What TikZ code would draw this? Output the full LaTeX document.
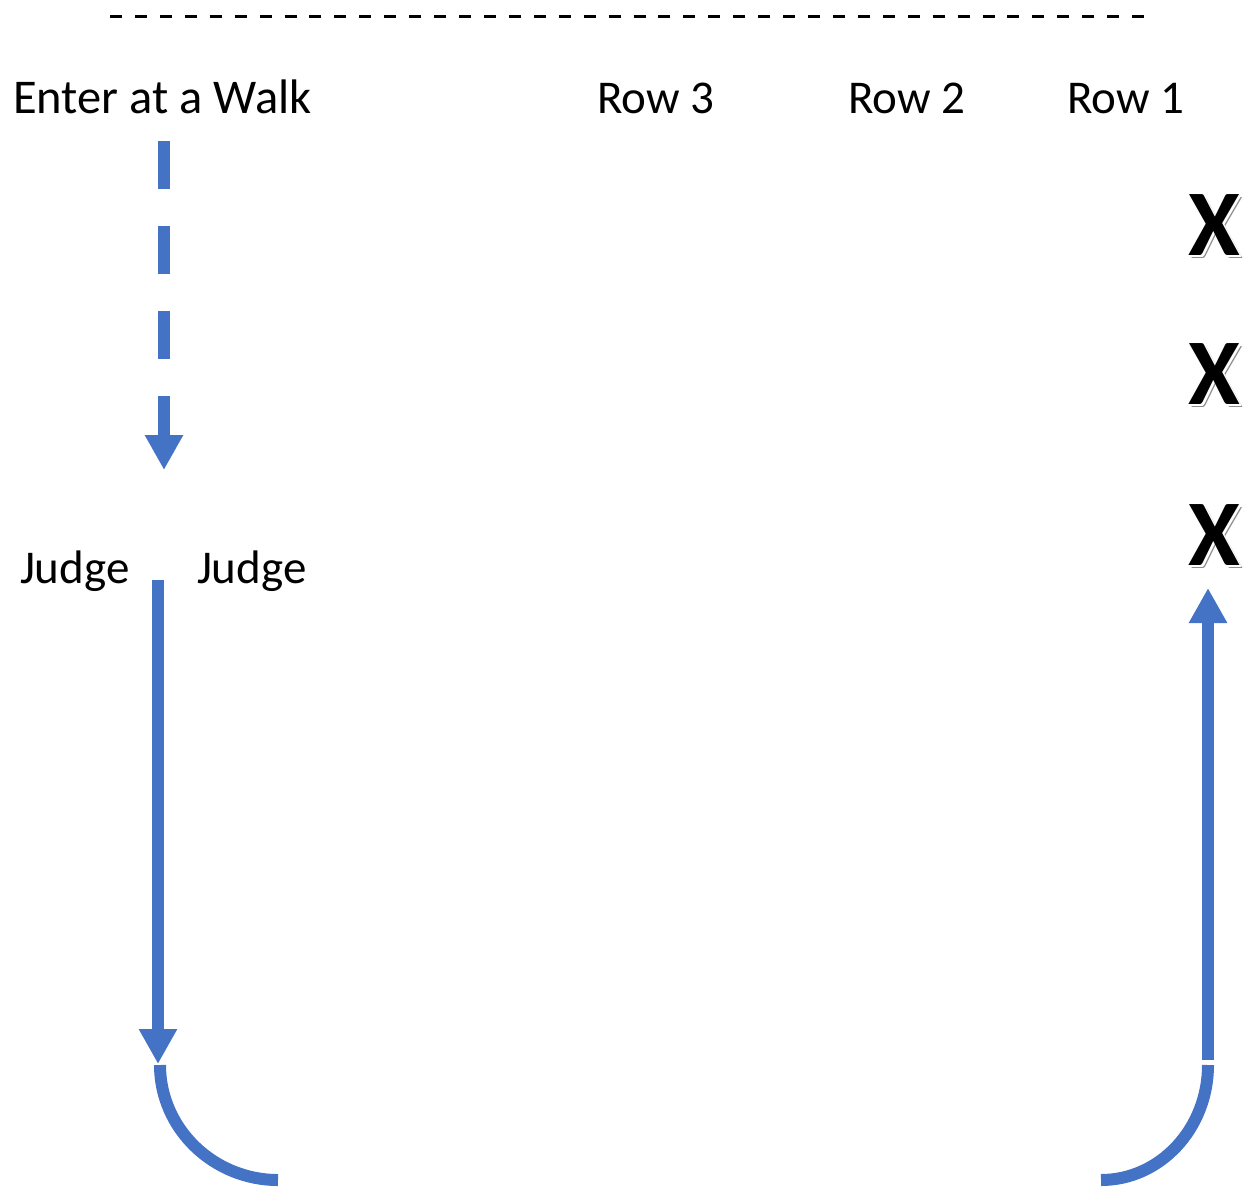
\documentclass[tikz,border=0pt]{standalone}
\usepackage{fontspec}
\setmainfont{Carlito}
\usetikzlibrary{arrows.meta}
\definecolor{flowblue}{HTML}{4472C4}
\definecolor{shadowgray}{HTML}{8C8C8C}
\tikzset{
  lbl/.style={inner sep=0pt, outer sep=0pt, anchor=base west, font=\fontsize{47}{56}\selectfont},
  xmark/.style={inner sep=0pt, outer sep=0pt, anchor=base, font=\bfseries\fontsize{94}{110}\selectfont},
  flow/.style={draw=flowblue, line width=12pt},
  flowtip/.style={-{Triangle[width=36pt,length=35pt]}, flow},
}
\begin{document}
\begin{tikzpicture}[x=1pt,y=-1pt]
\useasboundingbox (0,0) rectangle (1249,1186);
% top dashed line
\coordinate (topL) at (110,16);
\coordinate (topR) at (1144,16);
\draw[line width=3pt, dash pattern=on 12pt off 12.93pt] (topL) -- (topR);
% labels
\node[lbl, font=\fontsize{48.5}{58}\selectfont] (enter) at (13,113) {Enter at a Walk};
\node[lbl] (row3) at (597,113) {Row 3};
\node[lbl] (row2) at (848,113) {Row 2};
\node[lbl] (row1) at (1067,113) {Row 1};
\node[lbl] (judgeL) at (20,583) {Judge};
\node[lbl] (judgeR) at (197,583) {Judge};
% X marks with shadow
\foreach \n/\y in {x1/255, x2/404, x3/565} {
  \node[xmark, text=shadowgray] at (1217.5,\y+3.5) {X};
  \node[xmark, text=white] at (1216,\y+2) {X};
  \node[xmark, text=white] at (1216.5,\y+1) {X};
  \node[xmark, text=white] at (1215,\y+2.5) {X};
  \node[xmark] (\n) at (1214,\y) {X};
}
% entry dashed arrow
\coordinate (entryS) at (164,141);
\coordinate (entryE) at (164,470);
\draw[flowtip, dash pattern=on 48pt off 37pt] (entryS) -- (entryE);
% down arrow between judges
\coordinate (downS) at (158,580);
\coordinate (downE) at (158,1064);
\draw[flowtip] (downS) -- (downE);
% left arc
\coordinate (arcLs) at (160,1065);
\coordinate (arcLe) at (278,1180);
\draw[flow] (arcLs) .. controls (160,1128.5) and (213.4,1180) .. (arcLe);
% right arc
\coordinate (arcRs) at (1101,1180);
\coordinate (arcRe) at (1208,1065);
\draw[flow] (arcRs) .. controls (1160.1,1180) and (1208,1128.5) .. (arcRe);
% up arrow
\coordinate (upS) at (1208,1060);
\coordinate (upE) at (1208,588);
\draw[flowtip] (upS) -- (upE);
\end{tikzpicture}
\end{document}
